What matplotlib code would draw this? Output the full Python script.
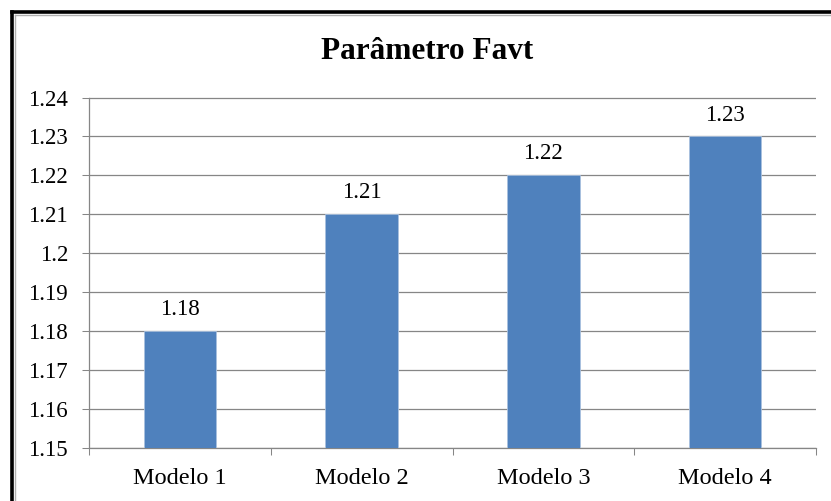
import matplotlib
matplotlib.use("Agg")
import matplotlib.pyplot as plt
from matplotlib.lines import Line2D
from matplotlib.ticker import FixedLocator

# Valores do parâmetro Favt por modelo
modelos = ['Modelo 1', 'Modelo 2', 'Modelo 3', 'Modelo 4']
favt = [1.18, 1.21, 1.22, 1.23]
rotulos_valor = ['1.18', '1.21', '1.22', '1.23']

y_ticks = [1.15, 1.16, 1.17, 1.18, 1.19, 1.20, 1.21, 1.22, 1.23, 1.24]
y_labels = ['1.15', '1.16', '1.17', '1.18', '1.19', '1.2', '1.21', '1.22', '1.23', '1.24']

plt.rcParams['font.family'] = ['Liberation Serif', 'DejaVu Serif']

cor_barra = '#4F81BD'
cor_grade = '#868686'

fig = plt.figure(figsize=(8.31, 5.01), dpi=100)
ax = fig.add_axes([89 / 831, 1 - 448.3 / 501, (816 - 89) / 831, (448.3 - 97.5) / 501])

x = list(range(len(modelos)))
ax.bar(x, [v - y_ticks[0] for v in favt], bottom=y_ticks[0], width=0.4,
       color=cor_barra, edgecolor='#A9C1DF', linewidth=0.6, zorder=3)

for xi, v, txt in zip(x, favt, rotulos_valor):
    ax.annotate(txt, xy=(xi, v), xytext=(0, 11.5), textcoords='offset points',
                ha='center', va='baseline', fontsize=16.5, color='black')

ax.set_xlim(-0.5, len(modelos) - 0.5)
ax.set_ylim(y_ticks[0], y_ticks[-1])

ax.set_yticks(y_ticks)
ax.set_yticklabels(y_labels)
ax.set_xticks(x)
ax.set_xticklabels(modelos)
ax.xaxis.set_minor_locator(FixedLocator([i - 0.5 for i in range(len(modelos) + 1)]))

ax.tick_params(axis='y', direction='out', length=5, width=0.75, color=cor_grade,
               labelsize=16.5, pad=10)
ax.tick_params(axis='x', which='major', length=0, labelsize=17.5, pad=14)
ax.tick_params(axis='x', which='minor', direction='out', length=5, width=0.75,
               color=cor_grade)

ax.grid(axis='y', color=cor_grade, linewidth=0.9, zorder=0)
ax.set_axisbelow(True)
for lado in ['top', 'right']:
    ax.spines[lado].set_visible(False)
for lado in ['left', 'bottom']:
    ax.spines[lado].set_color(cor_grade)
    ax.spines[lado].set_linewidth(0.9)

fig.text(427 / 831, 1 - 59 / 501, 'Parâmetro Favt', ha='center', va='baseline',
         fontsize=22.5, fontweight='bold')

# moldura do gráfico (somente topo e lateral esquerda)
W, H = 831, 501
fig.add_artist(Line2D([11.5 / W, 1], [1 - 11.5 / H, 1 - 11.5 / H], color='black',
                      linewidth=2.6, transform=fig.transFigure))
fig.add_artist(Line2D([11.5 / W, 11.5 / W], [0, 1 - 11.5 / H], color='black',
                      linewidth=2.6, transform=fig.transFigure))
fig.add_artist(Line2D([14.5 / W, 1], [1 - 14.5 / H, 1 - 14.5 / H], color='#B0B0B0',
                      linewidth=1.0, transform=fig.transFigure))
fig.add_artist(Line2D([14.5 / W, 14.5 / W], [0, 1 - 14.5 / H], color='#B0B0B0',
                      linewidth=1.0, transform=fig.transFigure))

fig.savefig('out.png', dpi=100)
